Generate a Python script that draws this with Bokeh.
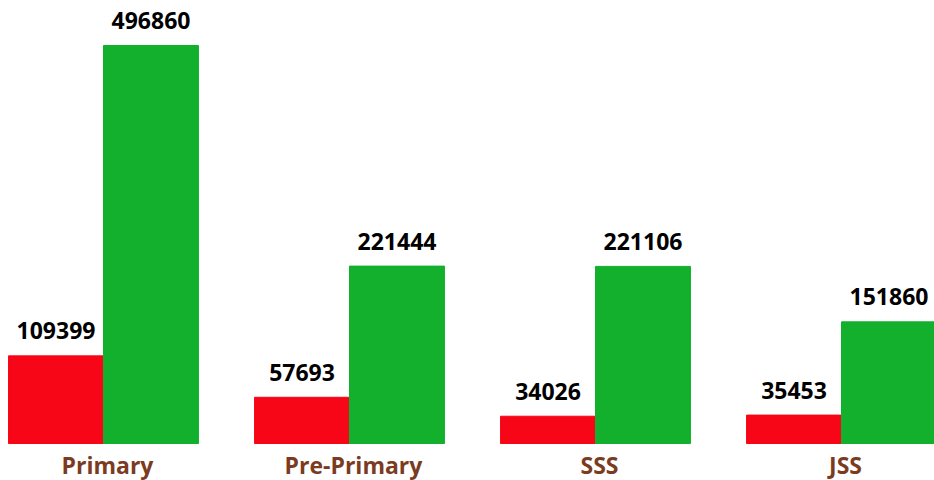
from bokeh.plotting import figure
from bokeh.models import Range1d, ColumnDataSource
from bokeh.core.properties import value
from bokeh.embed import file_html
from bokeh.resources import INLINE

categories = ["Primary", "Pre-Primary", "SSS", "JSS"]
series_red = [109399, 57693, 34026, 35453]
series_green = [496860, 221444, 221106, 151860]

RED = "#f70617"
GREEN = "#12b02c"
BROWN = "#7b3b1f"
FONT = "Open Sans"
BW = 0.386

idx = list(range(len(categories)))
src = ColumnDataSource(dict(
    x=idx,
    xr=[i - BW / 2 for i in idx],
    xg=[i + BW / 2 for i in idx],
    red=series_red,
    green=series_green,
    red_lbl=[str(v) for v in series_red],
    green_lbl=[str(v) for v in series_green],
    cat=categories,
    zero=[0] * len(idx),
))

p = figure(width=934, height=480, output_backend="svg", toolbar_location=None,
           x_range=Range1d(-0.4187, 3.378), y_range=Range1d(-46190, 553036),
           min_border=0, outline_line_color=None)
p.axis.visible = False
p.grid.visible = False

p.vbar(x="xr", top="red", width=BW, bottom=0, color=RED, source=src)
p.vbar(x="xg", top="green", width=BW, bottom=0, color=GREEN, source=src)

p.text(x="xr", y="red", text="red_lbl", source=src, text_align="center",
       text_baseline="middle", y_offset=-25, text_font=value(FONT),
       text_font_style="bold", text_font_size="23px", text_color="black")
p.text(x="xg", y="green", text="green_lbl", source=src, text_align="center",
       text_baseline="middle", y_offset=-25, text_font=value(FONT),
       text_font_style="bold", text_font_size="23px", text_color="black")
p.text(x="x", y="zero", text="cat", source=src, text_align="center",
       text_baseline="middle", x_offset=4, y_offset=21, text_font=value(FONT),
       text_font_style="bold", text_font_size="23px", text_color=BROWN)

open("out.html", "w").write(file_html(p, INLINE))
